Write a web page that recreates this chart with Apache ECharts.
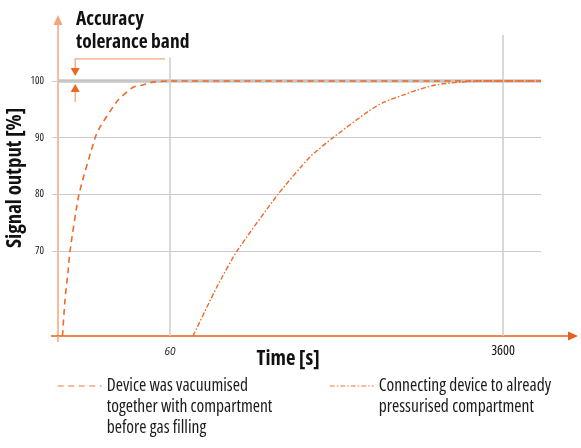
<!DOCTYPE html>
<html><head><meta charset="utf-8">
<script src="https://cdn.jsdelivr.net/npm/echarts@6/dist/echarts.min.js"></script>
<style>html,body{margin:0;padding:0;background:#fff}#c{width:581px;height:448px}</style>
</head><body><div id="c"></div>
<script>
const seriesNames = [
  'Device was vacuumised\ntogether with compartment\nbefore gas filling',
  'Connecting device to already\npressurised compartment'
];
const timeTicks = [60, 3600];          // x tick labels (s)
const signalTicks = [70, 80, 90, 100]; // y tick labels (%)

// Curve 1: device vacuumised together with compartment [time s] / [signal %]
const vacTime   = [16.0, 16.5, 17.1, 17.55, 19.6, 23.9, 25.4, 31.6, 38.1, 43.0, 48.7, 60, 5740];
const vacSignal = [55,   61.4, 66.1, 70,    80,   90,   91.9, 96.6, 98.9, 99.3, 99.8, 100, 100];

// Curve 2: connecting device to already pressurised compartment
const presTime   = [79.6, 106.9, 136.8, 226.3, 335.5, 445.1, 684.5, 823, 1052, 1250, 1522, 1721, 2121, 2713, 5740];
const presSignal = [55,   63.7,  70,    80,    86.6,  90,    94.6,  96.2, 97.5, 98.4, 99.2, 99.5, 99.8, 100,  100];

// axis ranges
const X_MIN = 15.14, X_MAX = 8506, Y_MIN = 55, Y_MAX = 110.76;
const gridEndTime = 5740;
const grid60Top = 104.2, grid3600Top = 108.1;
// tolerance band annotation (values)
const annot = {t: 18.7, tEnd: 56.4, top: 103.9, downTip: 100.88, upTip: 99.47, upEnd: 96.3};

// ---- choose the narrowest installed sans face (reference uses a condensed font)
const mctx = document.createElement('canvas').getContext('2d');
function pickFont() {
  const sample = 'Device was vacuumised';
  const cands = [
    ['normal', '"Liberation Sans Narrow"'],
    ['condensed', '"Open Sans"'],
    ['condensed', 'Roboto'],
    ['condensed', '"Noto Sans"'],
    ['normal', '"DejaVu Sans Condensed"'],
    ['condensed', '"DejaVu Sans"'],
    ['normal', '"Liberation Sans"']
  ];
  let best = null;
  cands.forEach(([st, fam]) => {
    mctx.font = st + ' normal 16px ' + fam + ', monospace';
    const w1 = mctx.measureText(sample).width;
    mctx.font = st + ' normal 16px ' + fam + ', serif';
    const w2 = mctx.measureText(sample).width;
    if (Math.abs(w1 - w2) > 0.5) return; // not installed
    if (!best || w1 < best.w - 0.5) best = {st, fam, w: w1};
  });
  return best || {st: 'normal', fam: 'sans-serif', w: 170};
}
const pf = pickFont();
const FONT = pf.fam + ', sans-serif';
const ST = pf.st;
// font size giving the reference's text width, kept within a sensible range
function fitSize(text, weight, target, lo, hi) {
  mctx.font = ST + ' ' + weight + ' 16px ' + FONT;
  const s = 16 * target / mctx.measureText(text).width;
  return Math.round(Math.max(lo, Math.min(hi, s)) * 10) / 10;
}
const FS_LEGEND = fitSize('Device was vacuumised', 'normal', 151, 14, 17.5);
const FS_TITLE = fitSize('Accuracy', 'bold', 68, 18, 21);
const FS_XNAME = fitSize('Time [s]', 'bold', 63, 16, 21);
const FS_YNAME = fitSize('Signal output [%]', 'bold', 140, 16, 21);
const FS_XLAB = fitSize('3600', 'normal', 30, 11, 14);
const FS_YLAB = fitSize('100', 'normal', 13.5, 9, 12);

const zip = (a, b) => a.map((v, i) => [v, b[i]]);
const curveColor = '#ef6a24';
const legendColor = '#f4a57c';
const gridColor = '#cbcbcb';
const textColor = '#1a1a1a';

const chart = echarts.init(document.getElementById('c'));

const gridLines = [];
[70, 80, 90].forEach(v => gridLines.push([{coord: [X_MIN, v]}, {coord: [gridEndTime, v]}]));
gridLines.push([{coord: [X_MIN, 100], lineStyle: {width: 3.5, color: '#c6c6c6'}}, {coord: [gridEndTime, 100]}]);
gridLines.push([{coord: [60, Y_MIN], lineStyle: {width: 1.5}}, {coord: [60, grid60Top]}]);
gridLines.push([{coord: [3600, Y_MIN], lineStyle: {width: 1.5}}, {coord: [3600, grid3600Top]}]);

const LH = 21;
const legendBase = {
  orient: 'horizontal', itemWidth: 44, itemHeight: 14, padding: 5,
  lineStyle: {color: legendColor, width: 1.5},
  itemStyle: {opacity: 0, borderWidth: 0},
  textStyle: {fontFamily: FONT, fontStyle: ST, fontSize: FS_LEGEND, lineHeight: LH, color: textColor},
  selectedMode: false
};
// legend icon centre sits on the first text line: blank lines keep the block symmetric
const ICON_Y = 386;

const option = {
  animation: false,
  backgroundColor: '#fff',
  title: {
    text: 'Accuracy\ntolerance band', left: 71, top: 3,
    textStyle: {fontFamily: FONT, fontStyle: ST, fontWeight: 'bold', fontSize: FS_TITLE, lineHeight: 23, color: '#111'}
  },
  legend: [
    Object.assign({}, legendBase, {left: 52, top: ICON_Y - 5 - 2.5 * LH, data: [seriesNames[0]], formatter: n => '\n\n' + n}),
    Object.assign({}, legendBase, {left: 324, top: ICON_Y - 5 - 1.5 * LH, data: [seriesNames[1]], formatter: n => '\n' + n})
  ],
  grid: {left: 58, right: 8, top: 20, bottom: 112, outerBoundsMode: 'none'},
  xAxis: {
    type: 'log', logBase: 10, min: X_MIN, max: X_MAX,
    name: 'Time [s]', nameLocation: 'middle', nameGap: 13, nameMoveOverlap: false,
    nameTextStyle: {fontFamily: FONT, fontStyle: ST, fontWeight: 'bold', fontSize: FS_XNAME, color: '#111', padding: [0, 55, 0, 0]},
    axisLine: {onZero: false, lineStyle: {color: '#e8601a', width: 1.5}, symbol: ['none', 'triangle'], symbolSize: [9, 10]},
    axisTick: {show: false}, minorTick: {show: false},
    splitLine: {show: false}, minorSplitLine: {show: false},
    axisLabel: {
      customValues: timeTicks, margin: 8,
      formatter: v => Math.round(v) === 60 ? '{s|60}' : '{b|' + Math.round(v) + '}',
      rich: {
        s: {fontFamily: FONT, fontSize: 10, fontStyle: 'italic', color: '#111', padding: [3, 0, 0, 0]},
        b: {fontFamily: FONT, fontStyle: ST, fontSize: FS_XLAB, color: '#111'}
      }
    }
  },
  yAxis: {
    type: 'value', min: Y_MIN, max: Y_MAX,
    name: 'Signal output [%]', nameLocation: 'middle', nameGap: 32, nameMoveOverlap: false,
    nameTextStyle: {fontFamily: FONT, fontStyle: ST, fontWeight: 'bold', fontSize: FS_YNAME, color: '#111'},
    axisLine: {show: true, onZero: false, lineStyle: {color: legendColor, width: 1.5}, symbol: ['none', 'triangle'], symbolSize: [9, 10]},
    axisTick: {show: true, customValues: signalTicks, length: 6, lineStyle: {color: gridColor, width: 1}},
    splitLine: {show: false},
    axisLabel: {customValues: signalTicks, margin: 14, fontFamily: FONT, fontStyle: ST, fontSize: FS_YLAB, color: '#222'}
  },
  series: [
    {
      name: '__grid', type: 'line', data: [], silent: true, z: 1,
      markLine: {
        silent: true, symbol: ['none', 'none'], label: {show: false}, animation: false,
        lineStyle: {color: gridColor, width: 1, type: 'solid'},
        emphasis: {disabled: true},
        data: gridLines
      }
    },
    {
      name: seriesNames[0], type: 'line', data: zip(vacTime, vacSignal), symbol: 'none', z: 5,
      smooth: 0.2,
      lineStyle: {color: curveColor, width: 1.6, type: [6, 4.5]},
      itemStyle: {color: curveColor}
    },
    {
      name: seriesNames[1], type: 'line', data: zip(presTime, presSignal), symbol: 'none', z: 5,
      smooth: 0.2,
      lineStyle: {color: curveColor, width: 1.4, type: [5, 2, 1.5, 2]},
      itemStyle: {color: curveColor}
    }
  ]
};
chart.setOption(option);

// decorative: axis overhangs and tolerance band arrows, positioned through the chart's scales
const P = (t, v) => chart.convertToPixel({gridIndex: 0}, [t, v]);
const o = P(X_MIN, Y_MIN);
const a0 = P(annot.t, annot.top), a1 = P(annot.tEnd, annot.top);
const dTip = P(annot.t, annot.downTip), uTip = P(annot.t, annot.upTip), uEnd = P(annot.t, annot.upEnd);
const aw = 4.5, ah = 8, arrowColor = '#ee6420';
chart.setOption({
  graphic: [
    {type: 'line', shape: {x1: o[0] - 7, y1: o[1], x2: o[0], y2: o[1]}, style: {stroke: '#e8601a', lineWidth: 1.5}, z: 10},
    {type: 'line', shape: {x1: o[0], y1: o[1], x2: o[0], y2: o[1] + 6}, style: {stroke: legendColor, lineWidth: 1.5}, z: 10},
    {type: 'polyline', shape: {points: [[a1[0], a1[1]], [a0[0], a0[1]], [dTip[0], dTip[1] - ah]]}, style: {stroke: legendColor, lineWidth: 1.3, fill: null}, z: 10},
    {type: 'polygon', shape: {points: [[dTip[0] - aw, dTip[1] - ah], [dTip[0] + aw, dTip[1] - ah], [dTip[0], dTip[1]]]}, style: {fill: arrowColor}, z: 10},
    {type: 'line', shape: {x1: uEnd[0], y1: uEnd[1], x2: uTip[0], y2: uTip[1] + ah}, style: {stroke: legendColor, lineWidth: 1.3}, z: 10},
    {type: 'polygon', shape: {points: [[uTip[0] - aw, uTip[1] + ah], [uTip[0] + aw, uTip[1] + ah], [uTip[0], uTip[1]]]}, style: {fill: arrowColor}, z: 10}
  ]
});
</script>
</body></html>
